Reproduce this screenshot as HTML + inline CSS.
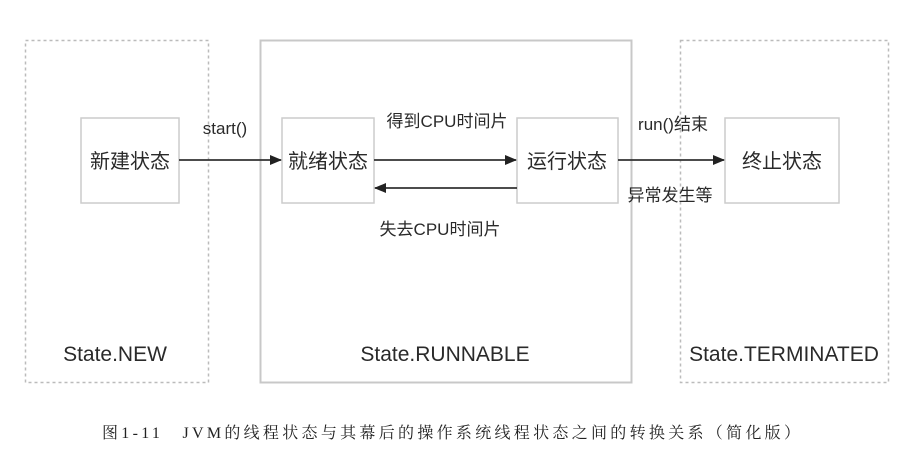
<!DOCTYPE html>
<html><head><meta charset="utf-8"><style>
html,body{margin:0;padding:0;background:#fff;}
svg{display:block;}
.t{font-family:"Liberation Sans","Noto Sans CJK SC",sans-serif;fill:#2a2a2a;}
</style></head><body>
<svg width="914" height="460" viewBox="0 0 914 460" xmlns="http://www.w3.org/2000/svg">
<defs><marker id="a" markerWidth="12" markerHeight="12" refX="11" refY="6" orient="auto" markerUnits="userSpaceOnUse"><path d="M0,1 L12,6 L0,11 z" fill="#222"/></marker></defs>
<rect x="25.5" y="40.5" width="183" height="342" fill="none" stroke="#bbb" stroke-width="1.5" stroke-dasharray="3,3"/>
<rect x="260.5" y="40.5" width="371" height="342" fill="none" stroke="#c8c8c8" stroke-width="2"/>
<rect x="680.5" y="40.5" width="208" height="342" fill="none" stroke="#bbb" stroke-width="1.5" stroke-dasharray="3,3"/>
<g fill="#fff" stroke="#ccc" stroke-width="1.5">
<rect x="81" y="118" width="98" height="85"/>
<rect x="282" y="118" width="92" height="85"/>
<rect x="517" y="118" width="101" height="85"/>
<rect x="725" y="118" width="114" height="85"/>
</g>
<g stroke="#333" stroke-width="1.8" marker-end="url(#a)">
<line x1="179" y1="160" x2="281" y2="160"/>
<line x1="374" y1="160" x2="516" y2="160"/>
<line x1="517" y1="188" x2="375" y2="188"/>
<line x1="618" y1="160" x2="724" y2="160"/>
</g>
<g class="t" font-size="20" text-anchor="middle">
<text x="130" y="168">新建状态</text>
<text x="328" y="168">就绪状态</text>
<text x="567" y="168">运行状态</text>
<text x="782" y="168">终止状态</text>
</g>
<g class="t" font-size="17" text-anchor="middle">
<text x="225" y="134">start()</text>
<text x="447" y="127">得到CPU时间片</text>
<text x="440" y="235">失去CPU时间片</text>
<text x="673" y="130">run()结束</text>
<text x="670" y="201">异常发生等</text>
</g>
<g class="t" font-size="21" text-anchor="middle">
<text x="115" y="361">State.NEW</text>
<text x="445" y="361">State.RUNNABLE</text>
<text x="784" y="361">State.TERMINATED</text>
</g>
<text x="102" y="438" font-size="16" fill="#222" textLength="698" lengthAdjust="spacing" font-family="'Liberation Serif','Noto Serif CJK SC',serif">图1-11　JVM的线程状态与其幕后的操作系统线程状态之间的转换关系（简化版）</text>
</svg>
</body></html>
